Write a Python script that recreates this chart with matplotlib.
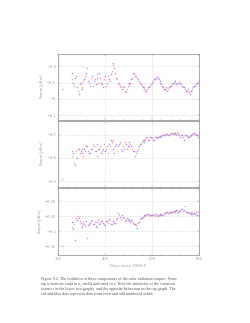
import matplotlib
matplotlib.use("Agg")
import matplotlib.pyplot as plt
from matplotlib.ticker import MultipleLocator

# orbit days (even orbits = red, odd orbits = blue)
days_red = [308, 330, 334, 338, 342, 346, 350, 354, 358, 362, 366, 370, 374, 378, 382, 386,
            390, 394, 398, 402, 406, 410, 414, 418, 422, 426, 430, 434, 438, 442, 446, 450,
            454, 458, 462, 466, 470, 474, 478, 482, 486, 490, 494, 498, 502, 506, 510, 514,
            518, 522, 526, 530, 534, 538, 542, 546, 550, 554, 558, 562, 566, 570, 574, 578,
            582, 586, 590, 594, 598]
days_blue = [329, 332, 336, 340, 344, 348, 352, 356, 360, 364, 368, 372, 376, 380, 384, 388,
             392, 396, 400, 404, 408, 412, 416, 420, 424, 428, 432, 436, 440, 444, 448, 452,
             456, 460, 464, 468, 472, 476, 480, 484, 488, 492, 496, 500, 504, 508, 512, 516,
             520, 524, 528, 532, 536, 540, 544, 548, 552, 556, 560, 564, 568, 572, 576, 580,
             584, 588, 592, 596, 600]

# top: sin(Omega) in x
top_red = [-5.94, -5.88, -5.92, -5.86, -5.95, -5.91, -5.93, -5.89, -5.86, -5.81, -5.90, -5.87,
           -5.92, -5.88, -5.85, -5.90, -5.87, -5.91, -5.88, -5.92, -5.86, -5.89, -5.83, -5.79,
           -5.84, -5.88, -5.91, -5.93, -5.92, -5.95, -5.94, -5.91, -5.90, -5.87, -5.85, -5.86,
           -5.88, -5.90, -5.92, -5.93, -5.95, -5.94, -5.93, -5.91, -5.89, -5.88, -5.86, -5.88,
           -5.90, -5.92, -5.94, -5.93, -5.94, -5.92, -5.91, -5.90, -5.89, -5.90, -5.89, -5.91,
           -5.93, -5.94, -5.95, -5.96, -5.95, -5.94, -5.92, -5.91, -5.90]
top_blue = [-5.84, -5.90, -5.87, -5.93, -5.97, -5.90, -5.94, -5.88, -5.84, -5.89, -5.92, -5.86,
            -5.89, -5.91, -5.87, -5.84, -5.90, -5.93, -5.86, -5.90, -5.88, -5.85, -5.78, -5.81,
            -5.87, -5.90, -5.92, -5.94, -5.93, -5.96, -5.92, -5.90, -5.88, -5.84, -5.86, -5.87,
            -5.89, -5.91, -5.93, -5.94, -5.95, -5.93, -5.92, -5.90, -5.88, -5.87, -5.87, -5.89,
            -5.91, -5.93, -5.94, -5.95, -5.93, -5.92, -5.90, -5.89, -5.91, -5.90, -5.90, -5.92,
            -5.93, -5.95, -5.94, -5.97, -5.95, -5.93, -5.92, -5.90, -5.89]

# middle: sin(2 Omega)
mid_red = [-1.89, -1.79, -1.82, -1.77, -1.76, -1.78, -1.76, -1.79, -1.77, -1.75, -1.78, -1.76,
           -1.74, -1.77, -1.79, -1.76, -1.75, -1.77, -1.74, -1.76, -1.78, -1.75, -1.73, -1.72,
           -1.75, -1.77, -1.74, -1.76, -1.75, -1.73, -1.76, -1.75, -1.74, -1.76, -1.77, -1.78,
           -1.76, -1.74, -1.73, -1.72, -1.72, -1.715, -1.72, -1.71, -1.72, -1.71, -1.715, -1.71,
           -1.705, -1.70, -1.70, -1.695, -1.70, -1.695, -1.69, -1.69, -1.695, -1.69, -1.70, -1.70,
           -1.71, -1.70, -1.705, -1.71, -1.70, -1.695, -1.69, -1.70, -1.71]
mid_blue = [-1.77, -1.78, -1.83, -1.80, -1.76, -1.77, -1.78, -1.76, -1.75, -1.77, -1.78, -1.76,
            -1.75, -1.77, -1.74, -1.76, -1.78, -1.76, -1.77, -1.75, -1.74, -1.72, -1.76, -1.78,
            -1.74, -1.75, -1.73, -1.77, -1.76, -1.74, -1.75, -1.73, -1.75, -1.77, -1.79, -1.77,
            -1.75, -1.74, -1.72, -1.73, -1.71, -1.72, -1.71, -1.715, -1.72, -1.71, -1.71, -1.705,
            -1.71, -1.70, -1.70, -1.695, -1.70, -1.69, -1.695, -1.69, -1.70, -1.695, -1.71, -1.70,
            -1.72, -1.70, -1.71, -1.705, -1.70, -1.69, -1.695, -1.70, -1.71]

# bottom: sin(Omega) in z
bot_red = [-0.319, -0.295, -0.290, -0.283, -0.280, -0.287, -0.292, -0.288, -0.293, -0.309,
           -0.290, -0.286, -0.291, -0.288, -0.294, -0.285, -0.289, -0.287, -0.291, -0.286,
           -0.289, -0.285, -0.290, -0.286, -0.289, -0.282, -0.279, -0.284, -0.281, -0.286,
           -0.283, -0.285, -0.288, -0.286, -0.290, -0.292, -0.289, -0.284, -0.282, -0.280,
           -0.279, -0.277, -0.279, -0.278, -0.277, -0.280, -0.278, -0.279, -0.277, -0.278,
           -0.276, -0.275, -0.276, -0.274, -0.275, -0.273, -0.274, -0.272, -0.273, -0.271,
           -0.273, -0.266, -0.274, -0.276, -0.275, -0.277, -0.276, -0.275, -0.274]
bot_blue = [-0.288, -0.297, -0.311, -0.285, -0.282, -0.289, -0.294, -0.290, -0.287, -0.292,
            -0.289, -0.285, -0.291, -0.293, -0.288, -0.290, -0.286, -0.289, -0.292, -0.287,
            -0.284, -0.290, -0.287, -0.289, -0.284, -0.276, -0.281, -0.278, -0.283, -0.285,
            -0.284, -0.287, -0.285, -0.289, -0.291, -0.296, -0.288, -0.283, -0.281, -0.279,
            -0.278, -0.277, -0.279, -0.278, -0.279, -0.277, -0.280, -0.278, -0.277, -0.278,
            -0.276, -0.275, -0.276, -0.274, -0.275, -0.273, -0.272, -0.274, -0.273, -0.270,
            -0.272, -0.275, -0.274, -0.276, -0.277, -0.276, -0.277, -0.278, -0.278]

panels = [
    (top_red, top_blue, (-6.13, -5.725), [-5.8, -5.9, -6.0, -6.1], ["\u22125.8", "\u22125.9", "\u22126", "\u22126.1"]),
    (mid_red, mid_blue, (-1.926, -1.64), [-1.7, -1.8, -1.9], ["\u22121.7", "\u22121.8", "\u22121.9"]),
    (bot_red, bot_blue, (-0.3316, -0.2427), [-0.26, -0.28, -0.30, -0.32],
     ["\u22120.26", "\u22120.28", "\u22120.3", "\u22120.32"]),
]

caption = ("Figure 9.2: The evolution of three components of the solar radiation torques. From\n"
           "top to bottom: sin\u03a9 in x, sin2\u03a9 and sin\u03a9 in z. Note the similarity of the variation\n"
           "features in the lower two graphs, and the opposite behaviour in the top graph. The\n"
           "red and blue dots represent data from even and odd numbered orbits.")

fig = plt.figure(figsize=(2.5, 3.23), dpi=100)
grey = "#9a9a9a"
left, width = 0.232, 0.564
bottoms = [0.6285, 0.421, 0.2105]
heights = [0.204, 0.204, 0.207]

for i, (r, b, ylim, yt, ytl) in enumerate(panels):
    ax = fig.add_axes([left, bottoms[i], width, heights[i]])
    ax.plot(days_red, r, "s", color="#ff7a7a", ms=1.0, mew=0, alpha=0.75)
    ax.plot(days_blue, b, "s", color="#7a7aff", ms=1.0, mew=0, alpha=0.75)
    ax.set_xlim(300, 600)
    ax.set_ylim(*ylim)
    ax.set_yticks(yt)
    ax.set_yticklabels(ytl)
    ax.xaxis.set_major_locator(MultipleLocator(100))
    ax.xaxis.set_minor_locator(MultipleLocator(20))
    ax.grid(True, which="major", ls=":", lw=0.4, color="#bbbbbb")
    ax.tick_params(which="both", direction="in", top=True, right=True, colors=grey,
                   labelsize=2.6, width=0.3, length=1.2, pad=1.5)
    ax.tick_params(which="minor", length=0.8)
    for s in ax.spines.values():
        s.set_color(grey)
        s.set_linewidth(0.6)
    ax.set_ylabel("Torque [\u03bcNm]", fontsize=2.6, color=grey, labelpad=2)
    if i < 2:
        ax.tick_params(labelbottom=False)
    else:
        ax.set_xticks([300, 400, 500, 600])
        ax.set_xlabel("Days since 1980.0", fontsize=2.8, color=grey, labelpad=2)

fig.text(0.164, 0.142, caption, fontsize=3.0, family="Liberation Serif", va="top",
         ha="left", color="#555555", linespacing=1.25)

fig.savefig("out.png", dpi=100)
